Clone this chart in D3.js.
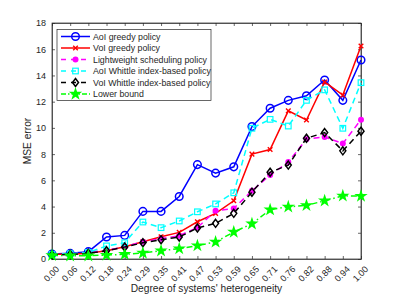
<!DOCTYPE html>
<html><head><meta charset="utf-8">
<script src="https://cdn.jsdelivr.net/npm/d3@7"></script>
<style>body{margin:0;background:#fff}svg{display:block}text{font-family:"Liberation Sans",Arial,sans-serif}</style>
</head><body>
<script>
const categories = ["0.00","0.06","0.12","0.18","0.24","0.29","0.35","0.41","0.47","0.53","0.59","0.65","0.71","0.76","0.82","0.88","0.94","1.00"];
const aoiGreedy = [0.38,0.43,0.56,1.68,1.8,3.63,3.63,4.77,7.2,6.55,7.03,10.1,11.5,12.1,12.45,13.65,12.1,15.18];
const voiGreedy = [0.36,0.36,0.43,0.63,0.94,1.32,1.7,2.03,2.84,3.48,4.44,8.0,8.35,11.3,10.6,13.5,12.5,16.25];
const lightweight = [0.35,0.4,0.5,0.66,0.94,1.32,1.55,1.78,2.4,3.68,3.86,5.2,6.4,7.39,9.14,9.31,8.8,10.63];
const aoiWhittle = [0.35,0.4,0.5,1.0,1.24,2.82,2.39,2.9,3.6,4.2,5.05,9.97,10.65,10.14,12.1,12.9,9.97,13.45];
const voiWhittle = [0.3,0.35,0.43,0.63,0.91,1.24,1.47,1.68,2.36,2.72,3.48,5.1,6.62,7.16,9.21,9.64,8.25,9.75];
const lowerBound = [0.28,0.25,0.25,0.3,0.36,0.46,0.63,0.79,1.02,1.3,2.06,2.69,3.76,3.98,4.09,4.44,4.82,4.8];
const yTicks = [0,2,4,6,8,10,12,14,16,18];
const seriesNames = ["AoI greedy policy","VoI greedy policy","Lightweight scheduling policy","AoI Whittle index-based policy","VoI Whittle index-based policy","Lower bound"];

const series = [
  {name: seriesNames[0], values: aoiGreedy, color: "#0000ff", dash: null, marker: "circle"},
  {name: seriesNames[1], values: voiGreedy, color: "#ff0000", dash: null, marker: "x"},
  {name: seriesNames[2], values: lightweight, color: "#ff00ff", dash: "6,4", marker: "dot"},
  {name: seriesNames[3], values: aoiWhittle, color: "#00ffff", dash: "6,4", marker: "square"},
  {name: seriesNames[4], values: voiWhittle, color: "#000000", dash: "6,4", marker: "diamond"},
  {name: seriesNames[5], values: lowerBound, color: "#00ff00", dash: "6,3,1.5,3", marker: "star"}
];

const W = 399, H = 299;
const L = 52, R = 361, T = 23, B = 259;
const svg = d3.select("body").append("svg").attr("width", W).attr("height", H);

const x = d3.scalePoint().domain(categories).range([L, R]);
const y = d3.scaleLinear().domain([0, 18]).range([B, T]);
const ax = "#262626";

svg.append("rect").attr("x", L).attr("y", T).attr("width", R - L).attr("height", B - T)
  .attr("fill", "none").attr("stroke", ax).attr("stroke-width", 0.7);

const gx = svg.append("g").attr("transform", `translate(0,${B})`)
  .call(d3.axisBottom(x).tickSizeInner(-3).tickSizeOuter(0).tickFormat(""));
const gxt = svg.append("g").attr("transform", `translate(0,${T})`)
  .call(d3.axisTop(x).tickSizeInner(-3).tickSizeOuter(0).tickFormat(""));
const gy = svg.append("g").attr("transform", `translate(${L},0)`)
  .call(d3.axisLeft(y).tickValues(yTicks).tickSizeInner(-3).tickSizeOuter(0).tickPadding(6));
const gyr = svg.append("g").attr("transform", `translate(${R},0)`)
  .call(d3.axisRight(y).tickValues(yTicks).tickSizeInner(-3).tickSizeOuter(0).tickFormat(""));
[gx, gxt, gy, gyr].forEach(g => {
  g.select(".domain").attr("stroke", ax).attr("stroke-width", 0.7);
  g.selectAll(".tick line").attr("stroke", ax).attr("stroke-width", 0.7);
});
gy.selectAll("text").attr("fill", ax).style("font-size", "9px").style("font-family", "Liberation Sans, Arial, sans-serif");

svg.append("g").selectAll("text").data(categories).join("text")
  .attr("transform", d => `translate(${x(d) + 4},${B + 7}) rotate(-45)`)
  .attr("text-anchor", "end").attr("dy", "0.6em")
  .attr("fill", ax).style("font-size", "9px").text(d => d);

svg.append("text").attr("x", (L + R) / 2).attr("y", 292).attr("text-anchor", "middle")
  .attr("fill", ax).style("font-size", "10.2px").text("Degree of systems' heterogeneity");
svg.append("text").attr("transform", `translate(31,${(T + B) / 2}) rotate(-90)`).attr("text-anchor", "middle")
  .attr("fill", ax).style("font-size", "10.2px").text("MSE error");

function drawMarker(g, s, cx, cy) {
  if (s.marker === "circle") {
    g.append("circle").attr("cx", cx).attr("cy", cy).attr("r", 3.8).attr("fill", "none").attr("stroke", s.color).attr("stroke-width", 1.5);
  } else if (s.marker === "x") {
    const r = 2.3;
    g.append("path").attr("d", `M${cx-r},${cy-r}L${cx+r},${cy+r}M${cx-r},${cy+r}L${cx+r},${cy-r}`).attr("stroke", s.color).attr("stroke-width", 1.4);
  } else if (s.marker === "dot") {
    g.append("circle").attr("cx", cx).attr("cy", cy).attr("r", 3).attr("fill", s.color);
  } else if (s.marker === "square") {
    g.append("rect").attr("x", cx - 2.8).attr("y", cy - 2.8).attr("width", 5.6).attr("height", 5.6).attr("fill", "none").attr("stroke", s.color).attr("stroke-width", 1.2);
  } else if (s.marker === "diamond") {
    const r = 4;
    g.append("path").attr("d", `M${cx},${cy-r}L${cx+r*0.75},${cy}L${cx},${cy+r}L${cx-r*0.75},${cy}Z`).attr("fill", "none").attr("stroke", s.color).attr("stroke-width", 1.5);
  } else if (s.marker === "star") {
    g.append("path").attr("d", d3.symbol(d3.symbolStar, 55)()).attr("transform", `translate(${cx},${cy})`).attr("fill", s.color);
  }
}

const line = d3.line().x((d, i) => x(categories[i])).y(d => y(d));
series.forEach(s => {
  const g = svg.append("g");
  g.append("path").datum(s.values).attr("d", line).attr("fill", "none")
    .attr("stroke", s.color).attr("stroke-width", 1.5).attr("stroke-dasharray", s.dash);
  s.values.forEach((v, i) => drawMarker(g, s, x(categories[i]), y(v)));
});

const lg = svg.append("g");
lg.append("rect").attr("x", 57).attr("y", 29.5).attr("width", 154).attr("height", 71)
  .attr("fill", "#fff").attr("stroke", ax).attr("stroke-width", 0.7);
series.forEach((s, i) => {
  const yy = 36.5 + i * 11.5;
  lg.append("path").attr("d", `M61,${yy}L90,${yy}`).attr("stroke", s.color).attr("stroke-width", 1.5)
    .attr("stroke-dasharray", s.dash ? (s.marker === "star" ? "5,2,1.5,2" : "5,5") : null);
  drawMarker(lg, s, 75.5, yy);
  lg.append("text").attr("x", 93).attr("y", yy).attr("dy", "0.35em").attr("fill", ax)
    .style("font-size", "8.8px").text(s.name);
});
</script>
</body></html>
